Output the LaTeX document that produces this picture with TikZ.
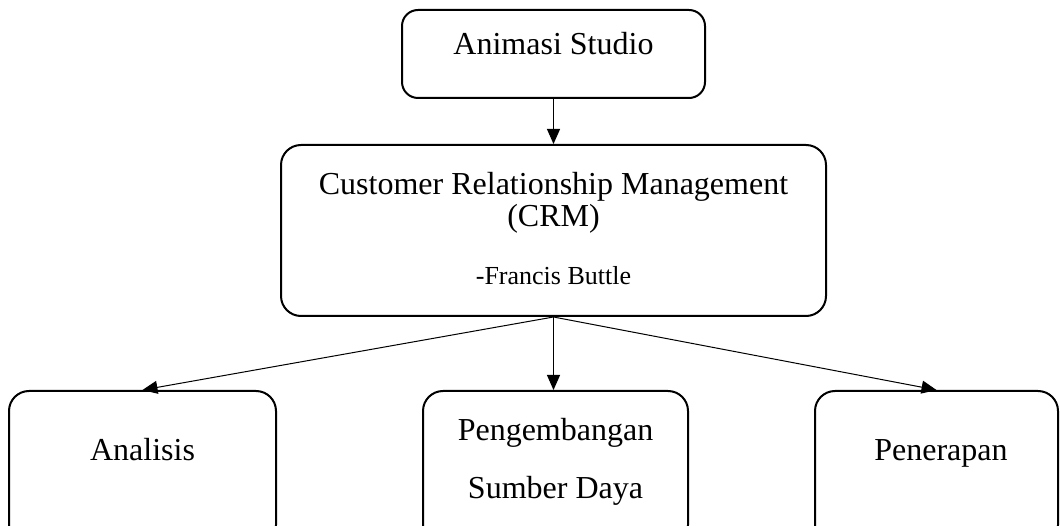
\documentclass[tikz,border=0pt]{standalone}
\usepackage{fontspec}
\setmainfont{Liberation Serif}
\usepackage{tikz}
\usetikzlibrary{arrows.meta}
\tikzset{
    crmbox/.style={draw, line width=2pt, rounded corners=20pt, inner sep=0pt},
    crmarrow/.style={-{Triangle[length=15pt, width=13pt]}, line width=1pt},
    crmtext/.style={anchor=base, inner sep=0pt, font=\fontsize{32}{32}\selectfont},
    smalltext/.style={anchor=base, inner sep=0pt, font=\fontsize{26}{26}\selectfont}
}

\begin{document}
\begin{tikzpicture}[x=1pt, y=-1pt]
    \useasboundingbox (0,0) rectangle (1060,526);
    \clip (0,0) rectangle (1060,526);

    \node[crmbox, rounded corners=16pt, minimum width=303pt, minimum height=88pt] (anim) at (553.5,54) {};
    \node[crmtext] (animt) at (553.5,55) {Animasi Studio};

    \node[crmbox, minimum width=545pt, minimum height=171pt] (crm) at (553.5,230.5) {};
    \node[crmtext] (crmt1) at (553.5,195) {Customer Relationship Management};
    \node[crmtext] (crmt2) at (553.5,227) {(CRM)};
    \node[smalltext] (crmt3) at (553.5,285) {-Francis Buttle};

    \node[crmbox, minimum width=267pt, minimum height=154pt] (ana) at (142.5,468) {};
    \node[crmtext] (anat) at (142.5,460) {Analisis};

    \node[crmbox, minimum width=265pt, minimum height=154pt] (peng) at (555.5,468) {};
    \node[crmtext] (pengt1) at (555.5,440) {Pengembangan};
    \node[crmtext] (pengt2) at (555.5,498) {Sumber Daya};

    \node[crmbox, minimum width=243pt, minimum height=154pt] (pene) at (936.5,468) {};
    \node[crmtext] (penet) at (941,460) {Penerapan};

    \draw[crmarrow] (crm.north |- anim.south) -- (crm.north);
    \draw[crmarrow] (crm.south) -- (ana.north);
    \draw[crmarrow] (crm.south) -- (peng.north -| crm.south);
    \draw[crmarrow] (crm.south) -- (pene.north);
\end{tikzpicture}
\end{document}
